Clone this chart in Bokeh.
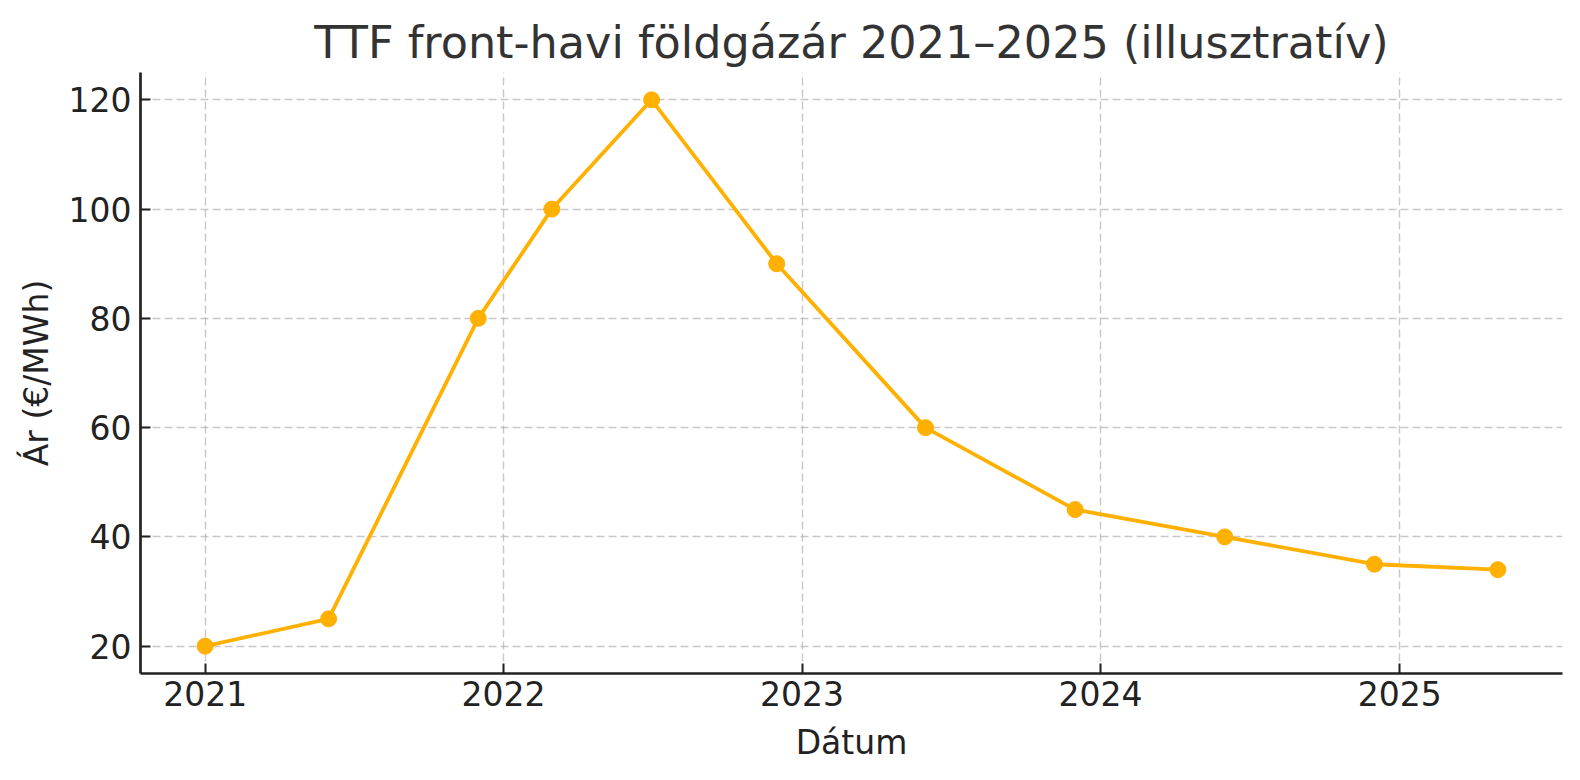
from datetime import datetime
from bokeh.plotting import figure
from bokeh.models import Range1d, FixedTicker, DatetimeTickFormatter
from bokeh.embed import file_html
from bokeh.resources import INLINE

# Data
dates = ["2021-01-01", "2021-06-01", "2021-12-01", "2022-03-01", "2022-07-01",
         "2022-12-01", "2023-06-01", "2023-12-01", "2024-06-01", "2024-12-01",
         "2025-05-01"]
prices = [20, 25, 80, 100, 120, 90, 60, 45, 40, 35, 34]
year_ticks = [2021, 2022, 2023, 2024, 2025]
y_ticks = [20, 40, 60, 80, 100, 120]

title_text = "TTF front-havi földgázár 2021–2025 (illusztratív)"
x_label = "Dátum"
y_label = "Ár (€/MWh)"

FONT = "DejaVu Sans"
LINE_COLOR = "#FFB000"

def to_ms(d):
    return (d - datetime(1970, 1, 1)).total_seconds() * 1000.0

xs = [to_ms(datetime.strptime(d, "%Y-%m-%d")) for d in dates]
xmin, xmax = min(xs), max(xs)
xpad = (xmax - xmin) * 0.05
ymin, ymax = min(prices), max(prices)
ypad = (ymax - ymin) * 0.05

p = figure(width=1576, height=776, x_axis_type="datetime",
           output_backend="svg", toolbar_location=None,
           x_range=Range1d(xmin - xpad, xmax + xpad),
           y_range=Range1d(ymin - ypad, ymax + ypad),
           min_border_left=140, min_border_right=14,
           min_border_top=72, min_border_bottom=103)

p.title.text = title_text
p.title.text_font = FONT
p.title.text_font_size = "44.5px"
p.title.text_font_style = "normal"
p.title.text_color = "#333333"
p.title.align = "center"
p.title.standoff = 10

p.outline_line_color = None
p.background_fill_color = "white"
p.border_fill_color = "white"

p.xaxis.ticker = FixedTicker(ticks=[to_ms(datetime(y, 1, 1)) for y in year_ticks])
p.xaxis.formatter = DatetimeTickFormatter(years="%Y", months="%Y", days="%Y")
p.yaxis.ticker = FixedTicker(ticks=y_ticks)

p.xaxis.axis_label = x_label
p.yaxis.axis_label = y_label

for ax in (p.xaxis, p.yaxis):
    ax.axis_line_color = "#222222"
    ax.axis_line_width = 2.7
    ax.major_tick_line_color = "#222222"
    ax.major_tick_line_width = 2
    ax.major_tick_in = 10
    ax.major_tick_out = 0
    ax.minor_tick_line_color = None
    ax.major_label_text_font = FONT
    ax.major_label_text_font_size = "33px"
    ax.major_label_text_color = "#222222"
    ax.axis_label_text_font = FONT
    ax.axis_label_text_font_size = "33px"
    ax.axis_label_text_font_style = "normal"
    ax.axis_label_text_color = "#222222"

p.xaxis.major_label_standoff = 7
p.yaxis.major_label_standoff = 9
p.xaxis.axis_label_standoff = 14
p.yaxis.axis_label_standoff = 10

for g in (p.xgrid, p.ygrid):
    g.grid_line_color = "#b0b0b0"
    g.grid_line_alpha = 0.7
    g.grid_line_dash = "8 4"
    g.grid_line_width = 1.4

p.line(xs, prices, line_color=LINE_COLOR, line_width=3.8)
p.scatter(xs, prices, size=16, fill_color=LINE_COLOR, line_color=LINE_COLOR)

open("out.html", "w").write(file_html(p, INLINE))
